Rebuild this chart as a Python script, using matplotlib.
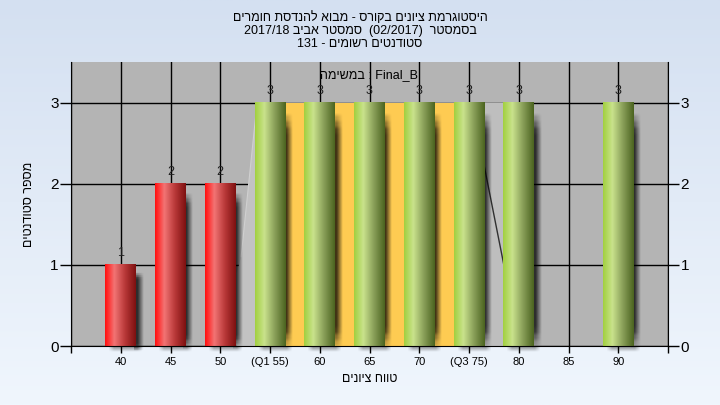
import numpy as np
import matplotlib
matplotlib.use('Agg')
import matplotlib.pyplot as plt
from matplotlib.colors import LinearSegmentedColormap, to_rgb

plt.rcParams['font.family'] = ['Liberation Sans', 'DejaVu Sans']

# data
grades = ['40', '45', '50', '(Q1 55)', '60', '65', '70', '(Q3 75)', '80', '85', '90']
counts = [1, 2, 2, 3, 3, 3, 3, 3, 3, 0, 3]
q1_idx, q3_idx = 3, 7

# hebrew text given in visual (left-to-right) order
title_lines = ['םירמוח תסדנהל אובמ - סרוקב םינויצ תמרגוטסיה',
               '2017/18 ביבא רטסמס  (02/2017)  רטסמסב',
               '131 - םימושר םיטנדוטס']
inner_title = 'המישמב : Final_B'
ylabel = 'םיטנדוטס רפסמ'
xlabel = 'םינויצ חווט'

fig = plt.figure(figsize=(7.2, 4.05), dpi=100)

# background gradient
bg = fig.add_axes([0, 0, 1, 1], zorder=-10)
top_c = np.array(to_rgb('#d4e0f1'))
bot_c = np.array(to_rgb('#f0f6fd'))
t = np.linspace(0, 1, 256)[:, None]
grad = (top_c * (1 - t) + bot_c * t)[:, None, :].repeat(2, axis=1)
bg.imshow(grad, aspect='auto', extent=[0, 1, 0, 1])
bg.axis('off')

ax = fig.add_axes([71 / 720, 59 / 405, 597 / 720, 284 / 405])
ax.set_facecolor('#b4b4b4')

red_cm = LinearSegmentedColormap.from_list('r', [(0, '#ff1010'), (0.08, '#ff2a2a'), (0.3, '#f27474'), (0.65, '#b83838'), (1, '#7e1010')])
green_cm = LinearSegmentedColormap.from_list('g', [(0, '#a2d040'), (0.3, '#c9e28c'), (0.65, '#889e58'), (1, '#4c6420')])

# interquartile band
ax.fill_between([q1_idx, q3_idx], 0, 3, color='#fecb52', zorder=1.5, lw=0)

# lighter area pieces
ax.fill([2.33, 2.33, 2.42, 2.74, 2.74], [0, 0.9, 1.1, 3.0, 0], color='#c2c2c2', zorder=1.5, lw=0)
ax.fill([7.28, 7.72, 7.72, 7.28], [0, 0, 3.0, 3.0], color='#bebebe', zorder=0.8, lw=0)
ax.fill([7.28, 7.72, 7.72, 7.28], [0, 0, 1.0, 2.3], color='#bebebe', zorder=1.5, lw=0)
ax.plot([2.42, 2.74], [1.1, 3.0], color='#d0d0d0', lw=0.8, zorder=1.6)
ax.plot([7.28, 7.70], [2.3, 1.0], color='#303030', lw=1, zorder=1.6)

w = 0.62
xs = np.linspace(0, 1, 64)[None, :]
for i, c in enumerate(counts):
    if c == 0:
        continue
    cm = red_cm if i < q1_idx else green_cm
    x0, x1 = i - w / 2, i + w / 2
    # soft shadow
    sh = np.zeros((40, 40, 4))
    hx = np.clip((1 - np.linspace(0, 1, 40)) * 1.6, 0, 1)
    vy = np.clip(np.minimum(np.linspace(0, 1, 40), 1 - np.linspace(0, 1, 40)) * 12, 0, 1)
    sh[..., 3] = 0.75 * hx[None, :] * vy[:, None]
    ax.imshow(sh, extent=[x1 - 0.05, x1 + 0.14, -0.07, c - 0.08], aspect='auto', zorder=1.9, clip_on=False)
    sb = np.zeros((20, 40, 4))
    sb[..., 3] = 0.45 * np.linspace(1, 0, 20)[:, None] * np.clip(np.minimum(np.linspace(0, 1, 40), 1 - np.linspace(0, 1, 40)) * 6, 0, 1)[None, :]
    ax.imshow(sb, extent=[x0 + 0.06, x1 + 0.14, -0.07, 0], aspect='auto', zorder=1.9, clip_on=False)
    ax.imshow(cm(xs), extent=[x0, x1, 0, c], aspect='auto', zorder=2)
    ax.text(i, c + 0.07, str(c), ha='center', va='bottom', fontsize=9, color='#202020', zorder=3)

ax.set_xlim(-1, len(grades))
ax.set_ylim(0, 3.5)

ax.set_xticks(range(-1, len(grades) + 1))
ax.set_xticklabels([''] + grades + [''], fontsize=8)
ax.set_yticks([0, 1, 2, 3])
ax.tick_params(axis='y', labelsize=11, length=8, width=1, right=True, labelright=True, pad=1)
ax.tick_params(axis='x', length=5, width=1, pad=3)
ax.grid(True, color='black', lw=1)
ax.set_axisbelow(True)
for s in ['left', 'right', 'bottom']:
    ax.spines[s].set_color('black')
ax.spines['top'].set_visible(False)

ax.text(0.5, 1 - 13 / 284, inner_title, transform=ax.transAxes, ha='center', va='center', fontsize=9, zorder=5)
ax.set_ylabel(ylabel, fontsize=9, labelpad=2)
ax.yaxis.set_label_coords(-36 / 597, 0.5)
ax.set_xlabel(xlabel, fontsize=9, labelpad=4)

for k, line in enumerate(title_lines):
    fig.text(0.5, 1 - (18 + 13 * k) / 405, line, ha='center', va='center', fontsize=9)

fig.savefig('out.png', dpi=100)
